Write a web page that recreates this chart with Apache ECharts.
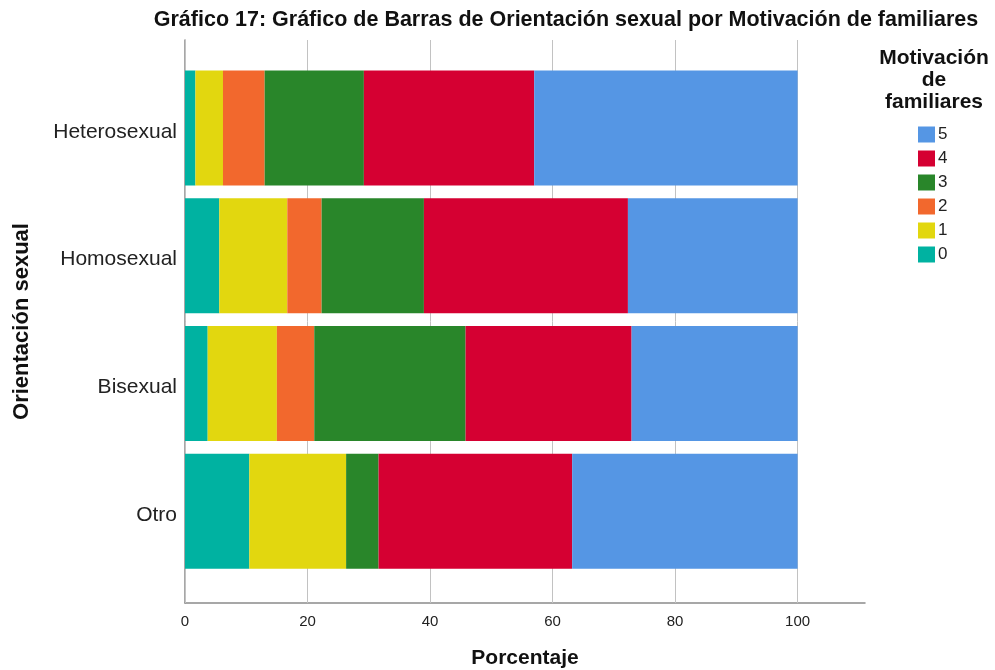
<!DOCTYPE html>
<html><head><meta charset="utf-8">
<script src="https://cdn.jsdelivr.net/npm/echarts@6/dist/echarts.min.js"></script>
<style>html,body{margin:0;padding:0;background:#fff}#c{width:995px;height:670px}</style>
</head><body><div id="c"></div>
<script>
const categories = ['Heterosexual', 'Homosexual', 'Bisexual', 'Otro'];
const levels = ['0', '1', '2', '3', '4', '5'];
const v0 = [1.7, 5.6, 3.7, 10.5];
const v1 = [4.5, 11.1, 11.3, 15.8];
const v2 = [6.8, 5.6, 6.1, 0];
const v3 = [16.2, 16.7, 24.7, 5.3];
const v4 = [27.8, 33.3, 27.1, 31.6];
const v5 = [43.0, 27.7, 27.1, 36.8];
const xTicks = [0, 20, 40, 60, 80, 100];
const colors = ['#00b2a1', '#e2d70f', '#f2682d', '#29862a', '#d50032', '#5596e4'];
const values = [v0, v1, v2, v3, v4, v5];

const FONT = 'Liberation Sans, Arial, sans-serif';
const chart = echarts.init(document.getElementById('c'));

const barSeries = levels.map((lv, i) => ({
  name: lv,
  type: 'bar',
  stack: 'total',
  xAxisIndex: 1,
  yAxisIndex: 1,
  barWidth: 115,
  z: 2,
  itemStyle: { color: colors[i] },
  data: values[i]
}));

chart.setOption({
  animation: false,
  backgroundColor: '#fff',
  textStyle: { fontFamily: FONT },
  title: [
    {
      text: 'Gráfico 17: Gráfico de Barras de Orientación sexual por Motivación de familiares',
      left: 566, top: 9, textAlign: 'center', padding: 0,
      textStyle: { fontFamily: FONT, fontSize: 21.5, fontWeight: 'bold', color: '#111' }
    },
    {
      text: 'Motivación\nde\nfamiliares',
      left: 934, top: 47, textAlign: 'center', padding: 0,
      textStyle: { fontFamily: FONT, fontSize: 21, fontWeight: 'bold', color: '#111', lineHeight: 22 }
    }
  ],
  legend: {
    data: ['5', '4', '3', '2', '1', '0'],
    orient: 'vertical',
    left: 918, top: 126,
    padding: 0,
    itemWidth: 17, itemHeight: 16, itemGap: 7,
    icon: 'rect',
    textStyle: { fontFamily: FONT, fontSize: 17, color: '#222', padding: [0, 0, 0, -2] }
  },
  grid: [
    { left: 185, right: 130, top: 40, bottom: 67, outerBoundsMode: 'none', containLabel: false },
    { left: 185, right: 130, top: 64, bottom: 95, outerBoundsMode: 'none', containLabel: false }
  ],
  xAxis: [
    {
      type: 'value', gridIndex: 0, min: 0, max: 111, interval: 20,
      axisLine: { show: true, lineStyle: { color: '#8a8a8a', width: 1.5 } },
      axisTick: { show: false },
      splitLine: { show: false },
      axisLabel: {
        fontSize: 15, color: '#222', margin: 11, fontFamily: FONT,
        formatter: v => (v <= 100 ? String(v) : '')
      },
      name: 'Porcentaje', nameLocation: 'middle', nameGap: 45,
      nameTextStyle: { fontFamily: FONT, fontSize: 21, fontWeight: 'bold', color: '#111' }
    },
    {
      type: 'value', gridIndex: 1, min: 0, max: 111, show: false
    }
  ],
  yAxis: [
    {
      type: 'value', gridIndex: 0, min: 0, max: 1,
      axisLine: { show: true, lineStyle: { color: '#8a8a8a', width: 1.5 } },
      axisTick: { show: false }, axisLabel: { show: false }, splitLine: { show: false },
      name: 'Orientación sexual', nameLocation: 'middle', nameRotate: 90, nameGap: 152,
      nameTextStyle: { fontFamily: FONT, fontSize: 22, fontWeight: 'bold', color: '#111' }
    },
    {
      type: 'category', gridIndex: 1, inverse: true, data: categories,
      axisLine: { show: false }, axisTick: { show: false }, splitLine: { show: false },
      axisLabel: {
        fontSize: 21, color: '#222', margin: 8, fontFamily: FONT,
        formatter: v => '{a|' + v + '}',
        rich: { a: { fontSize: 21, color: '#222', fontFamily: FONT, padding: [8, 0, 0, 0] } }
      }
    }
  ],
  series: [
    {
      type: 'line', xAxisIndex: 0, yAxisIndex: 0, data: [[0, 0]], showSymbol: false, silent: true,
      markLine: {
        silent: true, z: 1, symbol: ['none', 'none'], label: { show: false },
        lineStyle: { color: '#c2c2c2', type: 'solid', width: 1 },
        emphasis: { disabled: true },
        data: xTicks.map(v => ({ xAxis: v }))
      }
    }
  ].concat(barSeries)
});
</script>
</body></html>
